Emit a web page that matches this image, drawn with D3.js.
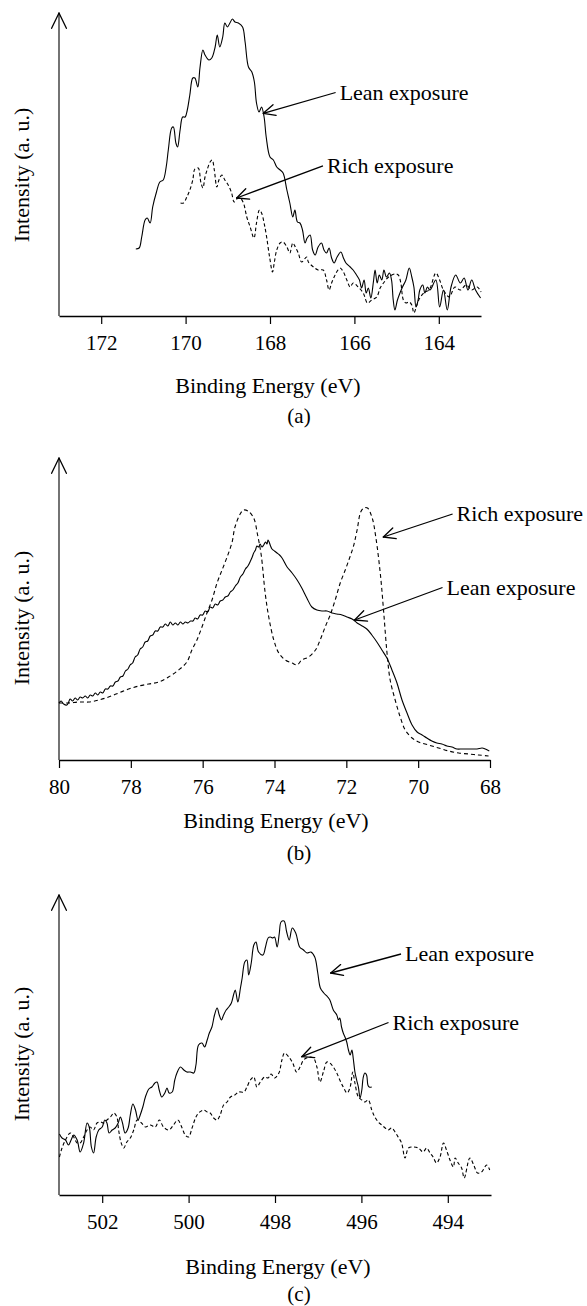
<!DOCTYPE html>
<html>
<head>
<meta charset="utf-8">
<script src="https://cdn.jsdelivr.net/npm/d3@7"></script>
<style>
  html, body { margin: 0; padding: 0; background: #fff; }
  body { font-family: 'Liberation Serif'; position: relative; width: 587px; height: 1306px; }
  svg text { font-family: 'Liberation Serif'; }
  .tag { position: absolute; font-size: 21px; line-height: 21px; color: #000; transform: translateX(-50%); white-space: nowrap; }
</style>
</head>
<body>
<svg id="fig" width="587" height="1306" style="position:absolute;left:0;top:0"></svg>
<script>
// ---------- (a) S 2p region ----------
const ticksA = [172, 170, 168, 166, 164];
const leanA_eV = [171.18,171.10,171.04,170.96,170.91,170.84,170.78,170.69,170.61,170.53,170.46,170.41,170.33,170.29,170.23,170.19,170.13,170.07,170.01,169.96,169.90,169.83,169.78,169.71,169.66,169.59,169.54,169.45,169.38,169.30,169.25,169.19,169.12,169.07,169.01,168.95,168.89,168.83,168.75,168.65,168.59,168.51,168.43,168.37,168.32,168.26,168.20,168.14,168.09,168.00,167.92,167.84,167.76,167.69,167.60,167.53,167.46,167.41,167.35,167.29,167.23,167.17,167.12,167.05,166.99,166.93,166.86,166.78,166.72,166.66,166.60,166.54,166.48,166.41,166.32,166.26,166.20,166.10,166.03,165.95,165.88,165.83,165.77,165.72,165.67,165.61,165.55,165.51,165.46,165.41,165.35,165.30,165.24,165.17,165.12,165.08,165.04,164.98,164.92,164.86,164.78,164.70,164.64,164.59,164.54,164.49,164.45,164.38,164.33,164.27,164.21,164.07,163.98,163.89,163.80,163.71,163.60,163.49,163.40,163.31,163.22,163.13,163.01];
const leanA_int = [67,68,79,96,98,93,109,124,134,136,149,166,188,189,173,169,186,199,199,206,221,238,238,229,248,266,261,256,258,269,281,269,279,293,289,293,297,294,293,289,274,249,244,234,213,204,209,199,179,159,156,149,146,143,126,113,99,106,94,93,86,73,78,81,66,61,69,73,66,63,68,58,53,59,64,58,53,49,46,41,36,28,36,23,28,18,34,46,33,41,36,46,39,43,36,16,6,16,23,29,36,48,39,29,9,16,26,31,23,29,26,36,9,26,6,29,41,33,38,26,36,26,18];
const richA_eV = [170.12,170.05,169.97,169.90,169.83,169.78,169.70,169.64,169.59,169.54,169.49,169.42,169.37,169.32,169.26,169.21,169.14,169.07,168.99,168.91,168.85,168.79,168.71,168.63,168.55,168.47,168.38,168.32,168.25,168.20,168.14,168.08,168.01,167.94,167.90,167.84,167.76,167.69,167.60,167.53,167.46,167.40,167.33,167.25,167.13,167.09,166.97,166.86,166.74,166.66,166.60,166.54,166.48,166.42,166.34,166.26,166.18,166.10,166.03,165.91,165.79,165.69,165.59,165.47,165.39,165.31,165.19,165.04,164.96,164.90,164.84,164.78,164.70,164.64,164.59,164.52,164.45,164.33,164.23,164.07,163.98,163.89,163.75,163.62,163.49,163.35,163.22,163.09,163.00];
const richA_int = [113,113,119,126,136,147,148,134,128,139,146,154,156,146,129,136,141,136,131,123,114,117,118,113,99,89,78,93,106,103,93,79,59,44,53,66,73,74,69,63,73,69,63,54,59,54,49,46,46,36,26,33,39,44,48,44,36,29,33,29,23,13,16,19,28,33,39,42,41,33,16,13,14,11,3,11,18,24,26,43,36,26,19,29,26,31,26,29,24];

// ---------- (b) Pt 4f region ----------
const ticksB = [80, 78, 76, 74, 72, 70, 68];
const leanB_eV = [80.00,79.94,79.87,79.78,79.73,79.69,79.62,79.55,79.48,79.41,79.34,79.27,79.20,79.13,79.06,78.99,78.92,78.85,78.78,78.71,78.64,78.57,78.50,78.43,78.36,78.29,78.22,78.15,78.08,78.02,77.95,77.88,77.81,77.74,77.67,77.60,77.53,77.46,77.39,77.32,77.25,77.18,77.11,77.04,76.97,76.90,76.83,76.76,76.69,76.62,76.55,76.48,76.41,76.34,76.27,76.21,76.14,76.07,76.00,75.93,75.86,75.79,75.72,75.65,75.58,75.51,75.44,75.37,75.30,75.23,75.16,75.09,75.02,74.95,74.88,74.81,74.74,74.67,74.62,74.58,74.53,74.49,74.44,74.40,74.35,74.30,74.25,74.21,74.18,74.15,74.11,74.07,74.00,73.93,73.86,73.79,73.65,73.51,73.37,73.24,73.10,72.96,72.82,72.68,72.54,72.40,72.26,72.12,71.98,71.84,71.70,71.56,71.43,71.29,71.15,71.01,70.87,70.73,70.59,70.45,70.31,70.17,70.03,69.89,69.76,69.62,69.48,69.34,69.20,69.06,68.92,68.78,68.64,68.50,68.36,68.22,68.13,68.02];
const leanB_int = [57,59,56,55,58,61,59,62,60,63,62,64,62,65,64,67,65,68,67,71,71,74,74,78,79,83,84,89,91,95,97,103,105,111,113,118,119,124,125,129,129,133,133,136,134,138,135,137,135,138,136,138,137,139,139,142,141,145,145,149,148,153,152,156,155,159,160,163,164,168,170,174,177,183,186,191,194,199,203,207,210,214,213,216,213,215,218,216,220,218,214,211,209,207,205,202,193,187,180,172,162,153,150,149,149,147,146,145,143,141,137,134,131,125,118,110,102,90,77,60,47,35,28,25,22,19,17,16,14,13,11,11,11,11,11,12,11,9];
const richB_eV = [80.00,79.73,79.45,79.17,78.89,78.62,78.34,78.06,77.78,77.50,77.22,76.95,76.67,76.44,76.30,76.16,76.02,75.88,75.74,75.60,75.46,75.32,75.18,75.10,74.94,74.86,74.74,74.58,74.47,74.37,74.26,74.16,74.02,73.88,73.70,73.51,73.37,73.24,73.05,72.86,72.73,72.59,72.45,72.31,72.17,72.03,71.91,71.80,71.70,71.60,71.51,71.41,71.28,71.18,71.05,70.96,70.87,70.78,70.64,70.50,70.36,70.17,69.99,69.71,69.43,69.15,68.87,68.59,68.32,68.04];
const richB_int = [57,57,58,58,60,63,67,71,74,76,78,83,90,98,110,120,133,147,160,177,190,203,218,233,247,250,249,242,225,205,167,143,120,107,100,97,95,100,103,110,120,133,145,160,177,190,202,214,230,248,252,252,242,223,185,148,108,80,60,43,30,22,18,15,12,9,7,6,5,4];

// ---------- (c) region ----------
const ticksC = [502, 500, 498, 496, 494];
const leanC_eV = [502.99,502.93,502.85,502.78,502.72,502.66,502.58,502.51,502.43,502.35,502.30,502.25,502.20,502.14,502.08,502.00,501.94,501.89,501.84,501.77,501.70,501.63,501.58,501.53,501.47,501.40,501.35,501.29,501.23,501.17,501.12,501.06,501.00,500.92,500.85,500.78,500.73,500.68,500.62,500.55,500.50,500.45,500.38,500.32,500.27,500.19,500.11,500.04,499.96,499.88,499.83,499.77,499.69,499.63,499.57,499.52,499.46,499.40,499.34,499.29,499.24,499.19,499.13,499.07,499.01,498.96,498.92,498.86,498.80,498.76,498.70,498.65,498.61,498.55,498.49,498.44,498.38,498.28,498.22,498.16,498.11,498.05,498.01,497.95,497.90,497.86,497.79,497.73,497.67,497.60,497.52,497.43,497.34,497.26,497.17,497.08,497.01,496.95,496.87,496.78,496.73,496.65,496.57,496.53,496.50,496.46,496.42,496.38,496.34,496.30,496.26,496.22,496.19,496.15,496.11,496.07,496.03,495.99,495.96,495.92,495.88,495.85,495.82,495.76];
const leanC_int = [61,57,55,50,55,60,55,43,52,72,68,48,42,58,65,68,75,72,62,65,67,72,78,72,62,67,80,91,85,75,80,88,98,106,108,112,113,105,98,102,107,102,103,115,122,128,125,123,123,122,130,150,152,148,155,162,168,180,187,180,175,180,185,188,192,200,205,193,207,217,233,235,220,232,250,253,243,240,248,257,258,257,258,248,262,273,274,263,255,267,262,248,245,242,243,238,222,207,202,198,195,185,180,175,177,168,162,158,153,145,140,145,137,123,115,108,97,105,117,122,120,110,108,108];
const richC_eV = [502.99,502.93,502.85,502.74,502.66,502.58,502.51,502.43,502.35,502.28,502.20,502.12,502.04,501.97,501.89,501.81,501.73,501.66,501.62,501.56,501.50,501.43,501.35,501.27,501.19,501.09,501.00,500.89,500.77,500.68,500.58,500.46,500.35,500.25,500.15,500.08,500.00,499.92,499.84,499.77,499.65,499.57,499.50,499.42,499.34,499.27,499.19,499.11,499.03,498.93,498.84,498.72,498.65,498.57,498.49,498.42,498.34,498.24,498.16,498.09,498.01,497.91,497.84,497.78,497.68,497.59,497.50,497.42,497.34,497.27,497.19,497.11,497.03,496.96,496.88,496.80,496.73,496.65,496.57,496.50,496.42,496.33,496.26,496.20,496.15,496.07,495.99,495.92,495.84,495.76,495.69,495.61,495.53,495.45,495.38,495.30,495.22,495.15,495.07,494.99,494.91,494.80,494.68,494.57,494.49,494.41,494.34,494.26,494.18,494.10,494.03,493.95,493.87,493.83,493.76,493.68,493.62,493.49,493.40,493.31,493.22,493.10,493.03];
const richC_int = [38,47,55,62,58,52,52,58,65,68,65,72,73,72,75,78,82,78,65,52,47,53,57,65,75,72,68,70,68,75,68,65,70,75,67,60,58,67,77,82,85,83,82,77,75,80,90,93,98,100,103,103,108,115,118,108,113,118,117,121,117,122,135,142,138,132,123,128,135,137,138,137,128,113,123,133,132,128,122,115,108,102,108,123,112,98,95,93,95,85,78,73,70,67,65,67,63,58,52,37,47,48,47,43,47,42,38,32,38,52,45,35,28,37,32,27,17,37,30,22,23,30,25];

// Annotation callouts: arrow tip and text anchor, both in data units (eV, intensity)
const notesA = [
  { label: "Lean exposure", tip: [168.16, 202.7], at: [166.35, 216.5] },
  { label: "Rich exposure", tip: [168.79, 118.0], at: [166.65, 143.2] }
];
const notesB = [
  { label: "Rich exposure", tip: [70.97, 223.0], at: [68.93, 239.0] },
  { label: "Lean exposure", tip: [71.77, 140.0], at: [69.21, 165.5] }
];
const notesC = [
  { label: "Lean exposure", tip: [496.71, 222.0], at: [494.99, 234.0] },
  { label: "Rich exposure", tip: [497.38, 138.3], at: [495.28, 165.5] }
];

const SERIF = "'Liberation Serif'";

// Panel layout (pixel frame of each plot)
const panels = [
  { tag: "(a)", xDom: [173, 163], xr: [59, 481], axisY: 316, topY: 13, yMax: 303,
    ticks: ticksA, lean: [leanA_eV, leanA_int], rich: [richA_eV, richA_int], notes: notesA,
    titleX: 268, titleY: 393, tagX: 299, tagY: 424, yLabelY: 175, dash: "3.5,2.5" },
  { tag: "(b)", xDom: [80, 68], xr: [59, 490], axisY: 760, topY: 458, yMax: 302,
    ticks: ticksB, lean: [leanB_eV, leanB_int], rich: [richB_eV, richB_int], notes: notesB,
    titleX: 276, titleY: 828, tagX: 299, tagY: 861, yLabelY: 618, dash: "4,3" },
  { tag: "(c)", xDom: [503, 493], xr: [59, 491], axisY: 1195, topY: 895, yMax: 300,
    ticks: ticksC, lean: [leanC_eV, leanC_int], rich: [richC_eV, richC_int], notes: notesC,
    titleX: 278, titleY: 1274, tagX: 299, tagY: 1302, yLabelY: 1054, dash: "3.5,2.5" }
];

const svg = d3.select("#fig");
const body = d3.select("body");

function openHead(g, tipX, tipY, fromX, fromY, len, half) {
  const ang = Math.atan2(fromY - tipY, fromX - tipX);
  [ang - half, ang + half].forEach(a => {
    g.append("line")
      .attr("x1", tipX).attr("y1", tipY)
      .attr("x2", tipX + len * Math.cos(a)).attr("y2", tipY + len * Math.sin(a))
      .attr("stroke", "#000").attr("stroke-width", 1.3).attr("stroke-linecap", "round");
  });
}

function label(g, txt, size) {
  return g.append("text")
    .style("font-family", SERIF)
    .attr("font-size", size).attr("fill", "#000").text(txt);
}

panels.forEach(p => {
  const g = svg.append("g");
  const x = d3.scaleLinear().domain(p.xDom).range(p.xr);
  const y = d3.scaleLinear().domain([0, p.yMax]).range([p.axisY, p.topY]);

  // x axis
  const ax = g.append("g")
    .attr("transform", `translate(0,${p.axisY})`)
    .call(d3.axisBottom(x).tickValues(p.ticks).tickSize(8).tickSizeOuter(0)
      .tickPadding(11).tickFormat(d3.format("d")));
  ax.attr("font-family", null).attr("font-size", 21);
  ax.select(".domain").attr("stroke", "#000").attr("stroke-width", 1.7);
  ax.selectAll(".tick line").attr("stroke", "#000").attr("stroke-width", 1.2);
  ax.selectAll(".tick text")
    .style("font-family", SERIF)
    .attr("font-size", 21).attr("fill", "#000");

  // y axis with open arrowhead
  g.append("line")
    .attr("x1", p.xr[0]).attr("x2", p.xr[0])
    .attr("y1", p.axisY).attr("y2", p.topY)
    .attr("stroke", "#000").attr("stroke-width", 1.1);
  openHead(g, p.xr[0], p.topY, p.xr[0], p.topY + 10, 17, 0.45);

  // spectra
  const line = d3.line()
    .x(d => x(d[0])).y(d => y(d[1]))
    .curve(d3.curveCatmullRom.alpha(0.5));
  g.append("path")
    .datum(d3.zip(p.rich[0], p.rich[1]))
    .attr("d", line).attr("fill", "none")
    .attr("stroke", "#000").attr("stroke-width", 1.1)
    .attr("stroke-dasharray", p.dash);
  g.append("path")
    .datum(d3.zip(p.lean[0], p.lean[1]))
    .attr("d", line).attr("fill", "none")
    .attr("stroke", "#000").attr("stroke-width", 1.1);

  // callouts
  p.notes.forEach(n => {
    const tx = x(n.at[0]), ty = y(n.at[1]);
    const sx = tx - 4, sy = ty - 7;
    const px = x(n.tip[0]), py = y(n.tip[1]);
    g.append("line")
      .attr("x1", sx).attr("y1", sy).attr("x2", px).attr("y2", py)
      .attr("stroke", "#000").attr("stroke-width", 1.3);
    openHead(g, px, py, sx, sy, 13, 0.44);
    label(g, n.label, 22).attr("x", tx).attr("y", ty);
  });

  // axis titles
  label(g, "Binding Energy (eV)", 22)
    .attr("x", p.titleX).attr("y", p.titleY).attr("text-anchor", "middle");
  label(g, "Intensity (a. u.)", 22)
    .attr("transform", `translate(29,${p.yLabelY}) rotate(-90)`)
    .attr("text-anchor", "middle");

  // panel tag as an HTML caption below the plot
  body.append("div").attr("class", "tag")
    .style("left", p.tagX + "px")
    .style("top", (p.tagY - 17.6) + "px")
    .text(p.tag);
});
</script>
</body>
</html>
